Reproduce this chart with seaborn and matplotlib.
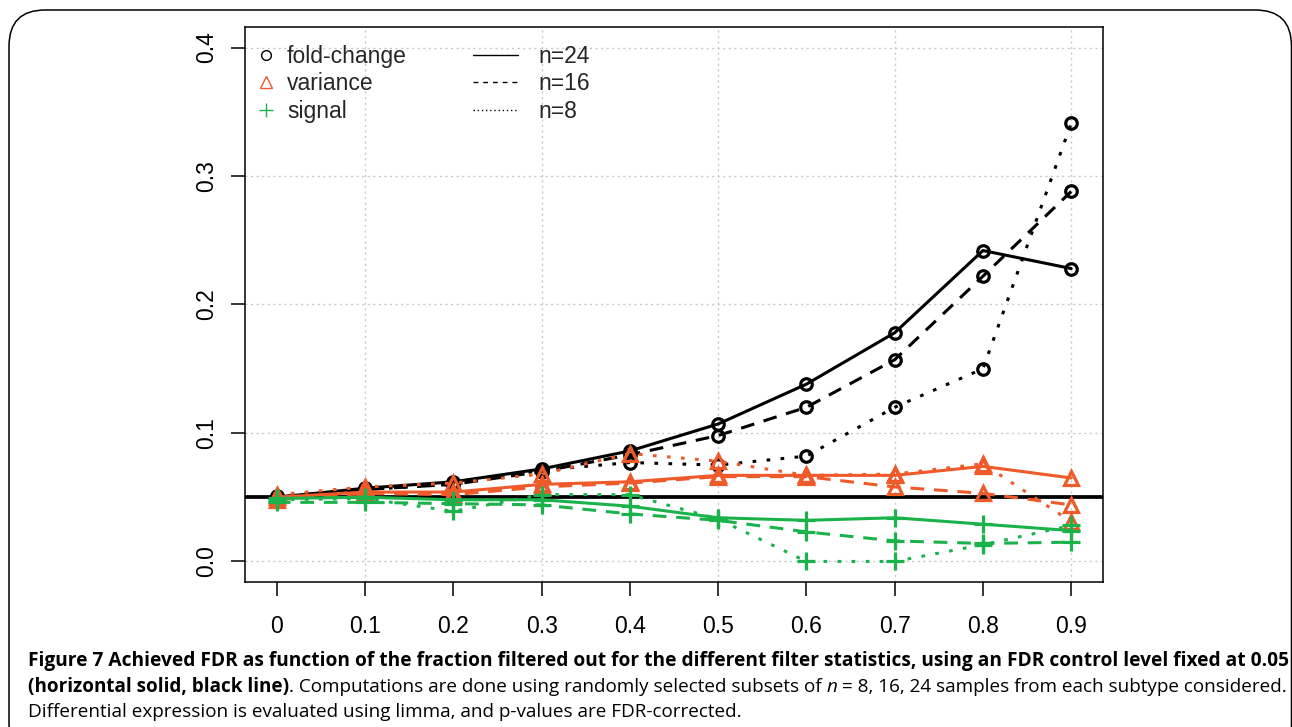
import numpy as np
import pandas as pd
import matplotlib
matplotlib.use("Agg")
import matplotlib.pyplot as plt
import seaborn as sns
from matplotlib.lines import Line2D
from matplotlib.patches import FancyBboxPatch

# ---------------- data ----------------
frac = [0.0, 0.1, 0.2, 0.3, 0.4, 0.5, 0.6, 0.7, 0.8, 0.9]
sample_sizes = [24, 16, 8]

fc_24 = [0.050, 0.057, 0.062, 0.072, 0.086, 0.107, 0.138, 0.178, 0.242, 0.228]
fc_16 = [0.050, 0.056, 0.060, 0.070, 0.083, 0.098, 0.120, 0.157, 0.222, 0.288]
fc_8 = [0.051, 0.056, 0.060, 0.071, 0.077, 0.075, 0.082, 0.120, 0.150, 0.341]

var_24 = [0.050, 0.054, 0.054, 0.060, 0.062, 0.067, 0.067, 0.067, 0.074, 0.065]
var_16 = [0.048, 0.053, 0.052, 0.058, 0.061, 0.066, 0.066, 0.058, 0.053, 0.044]
var_8 = [0.052, 0.058, 0.061, 0.068, 0.084, 0.078, 0.067, 0.068, 0.076, 0.031]

sig_24 = [0.049, 0.050, 0.048, 0.048, 0.043, 0.034, 0.032, 0.034, 0.029, 0.024]
sig_16 = [0.046, 0.046, 0.045, 0.044, 0.037, 0.032, 0.023, 0.016, 0.014, 0.015]
sig_8 = [0.048, 0.049, 0.039, 0.052, 0.052, 0.033, 0.000, 0.000, 0.013, 0.028]

fdr_level = 0.05
stat_names = ["fold-change", "variance", "signal"]
n_labels = ["n=24", "n=16", "n=8"]
x_ticks = [0, 0.1, 0.2, 0.3, 0.4, 0.5, 0.6, 0.7, 0.8, 0.9]
x_tick_labels = ["0", "0.1", "0.2", "0.3", "0.4", "0.5", "0.6", "0.7", "0.8", "0.9"]
y_ticks = [0.0, 0.1, 0.2, 0.3, 0.4]
y_tick_labels = ["0.0", "0.1", "0.2", "0.3", "0.4"]

caption_1 = ("Figure 7 Achieved FDR as function of the fraction filtered out for the different "
             "filter statistics, using an FDR control level fixed at 0.05")
caption_2a = "(horizontal solid, black line)"
caption_2b = ". Computations are done using randomly selected subsets of"
caption_2c = "n"
caption_2d = "= 8, 16, 24 samples from each subtype considered."
caption_3 = "Differential expression is evaluated using limma, and p-values are FDR-corrected."

series = {
    "fold-change": [fc_24, fc_16, fc_8],
    "variance": [var_24, var_16, var_8],
    "signal": [sig_24, sig_16, sig_8],
}

rows = []
for stat in stat_names:
    for n, vals in zip(sample_sizes, series[stat]):
        for f, v in zip(frac, vals):
            rows.append({"stat": stat, "n": f"n={n}", "frac": f, "fdr": v})
df = pd.DataFrame(rows)

# ---------------- style ----------------
sns.set_theme(style="white")
plt.rcParams["font.family"] = ["Liberation Sans", "DejaVu Sans"]

colors = {"fold-change": "#000000", "variance": "#EF5A2B", "signal": "#1BB24B"}
markers = {"fold-change": "o", "variance": "^", "signal": "+"}
msizes = {"fold-change": 8.3, "variance": 10, "signal": 13.5}
dash_map = {"n=24": "", "n=16": (4.5, 3.2), "n=8": (1.2, 3.4)}

W, H = 1292, 727
fig = plt.figure(figsize=(W / 100, H / 100), dpi=100)
fig.patch.set_facecolor("white")

ax_left, ax_right, ax_top, ax_bottom = 245, 1103, 27, 582
ax = fig.add_axes([ax_left / W, 1 - ax_bottom / H, (ax_right - ax_left) / W, (ax_bottom - ax_top) / H])
ax.set_facecolor("white")

# grid (R grid(): dotted light grey)
for gx in [0.1, 0.3, 0.5, 0.7, 0.9]:
    ax.axvline(gx, color="#C8C8C8", lw=1.0, ls=(0, (1.5, 2.5)), zorder=0)
for gy in y_ticks:
    ax.axhline(gy, color="#C8C8C8", lw=1.0, ls=(0, (1.5, 2.5)), zorder=0)

for i, stat in enumerate(stat_names):
    sub = df[df["stat"] == stat]
    c = colors[stat]
    sns.lineplot(
        data=sub, x="frac", y="fdr", style="n", style_order=n_labels,
        dashes=dash_map, ax=ax, color=c, lw=2.2, legend=False,
        marker=markers[stat], markersize=msizes[stat],
        markerfacecolor="none", markeredgecolor=c, markeredgewidth=2.3,
        estimator=None, sort=False, zorder=3 + i,
    )

ax.axhline(fdr_level, color="black", lw=2.7, zorder=2.5)

ax.set_xlim(-0.036, 0.936)
ax.set_ylim(-0.016, 0.416)
ax.set_xticks(x_ticks)
ax.set_xticklabels(x_tick_labels)
ax.set_yticks(y_ticks)
ax.set_yticklabels(y_tick_labels, rotation=90, va="center")
ax.set_xlabel("")
ax.set_ylabel("")
ax.tick_params(axis="both", which="major", direction="out", length=10, width=1.1,
               color="black", labelsize=16.5, labelcolor="black", bottom=True, left=True)
ax.tick_params(axis="x", pad=14)
ax.tick_params(axis="y", pad=9)
for sp in ax.spines.values():
    sp.set_visible(True)
    sp.set_color("black")
    sp.set_linewidth(1.1)

# legends
leg_y = 0.968
h1 = [Line2D([], [], ls="none", marker=markers[s], color=colors[s], mfc="none", mec=colors[s],
             ms={"o": 7, "^": 9, "+": 10}[markers[s]], mew=1.0) for s in stat_names]
leg1 = ax.legend(h1, stat_names, loc="upper left", bbox_to_anchor=((255 - ax_left) / (ax_right - ax_left), leg_y),
                 frameon=False, fontsize=16.5, handlelength=1.0, handletextpad=0.4,
                 labelspacing=0.2, borderpad=0, borderaxespad=0)
ax.add_artist(leg1)
h2 = [Line2D([], [], color="black", lw=1.0, ls=ls) for ls in ["-", (0, (3.5, 3.5)), (0, (1.0, 2.0))]]
leg2 = ax.legend(h2, n_labels, loc="upper left", bbox_to_anchor=((473 - ax_left) / (ax_right - ax_left), leg_y),
                 frameon=False, fontsize=16.5, handlelength=1.95, handletextpad=0.9,
                 labelspacing=0.2, borderpad=0, borderaxespad=0)

# rounded border box
box = FancyBboxPatch((9 / W, 1 - 760 / H), (1291.5 - 9) / W, (760 - 10) / H,
                     boxstyle="round,pad=0,rounding_size=0.028", transform=fig.transFigure,
                     fill=False, edgecolor="black", lw=1.1, clip_on=False,
                     mutation_aspect=W / H)
fig.patches.append(box)

# caption
CAP_FONT = ["Open Sans", "DejaVu Sans"]
fig.canvas.draw()
renderer = fig.canvas.get_renderer()


def text_width(s, size, weight="normal", style="normal"):
    t = fig.text(0, 0, s, fontsize=size, fontweight=weight, fontstyle=style, family=CAP_FONT)
    w = t.get_window_extent(renderer).width
    t.remove()
    return w


def space_width(size):
    return text_width("x x", size) - text_width("xx", size)


def runs_width(runs, size):
    total = 0.0
    for s, weight, style, gap in runs:
        total += text_width(s, size, weight, style)
        if gap:
            total += space_width(size)
    return total


def draw_runs(x0, baseline, runs, size):
    x = x0
    for s, weight, style, gap in runs:
        t = fig.text(x / W, 1 - baseline / H, s, fontsize=size, fontweight=weight, fontstyle=style,
                     family=CAP_FONT, ha="left", va="baseline", color="black")
        x += t.get_window_extent(renderer).width
        if gap:
            x += space_width(size)


line1 = [(caption_1, "bold", "normal", False)]
line2 = [(caption_2a, "bold", "normal", False),
         (caption_2b, "normal", "normal", True),
         (caption_2c, "normal", "italic", True),
         (caption_2d, "normal", "normal", False)]
line3 = [(caption_3, "normal", "normal", False)]

base = 12.0
target = 1281 - 28
size1 = base * target / runs_width(line1, base)
size2 = base * target / runs_width(line2, base)

draw_runs(28, 666, line1, size1)
draw_runs(28, 692, line2, size2)
draw_runs(28, 717, line3, size2)

fig.savefig("out.png", dpi=100, facecolor="white")
